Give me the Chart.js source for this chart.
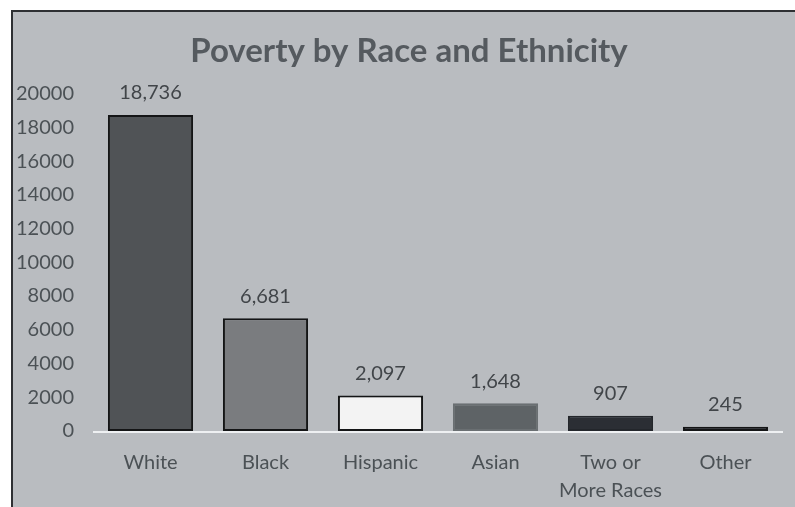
<!DOCTYPE html>
<html>
<head>
<meta charset="utf-8">
<script src="https://cdn.jsdelivr.net/npm/chart.js@4"></script>
<style>
  html, body { margin: 0; padding: 0; background: #ffffff; overflow: hidden; }
  #frame {
    position: absolute;
    left: 11px; top: 10px;
    width: 782px; height: 495px;
    overflow: hidden;
    background: #b9bcc0;
    border-left: 2px solid #2e3033;
    border-top: 2px solid #2e3033;
  }
  #frame canvas { display: block; }
</style>
</head>
<body>
<div id="frame"><canvas id="poverty" width="792" height="495"></canvas></div>
<script>
const categories = ['White', 'Black', 'Hispanic', 'Asian', ['Two or', 'More Races'], 'Other'];
const counts = [18736, 6681, 2097, 1648, 907, 245];
const barColors = ['#505356', '#7a7c7f', '#f3f3f3', '#5e6366', '#2b2e34', '#2b2e34'];
const edgeColors = ['#141516', '#141516', '#141516', '#6a6f72', '#23262b', '#141516'];
const yTicks = [0, 2000, 4000, 6000, 8000, 10000, 12000, 14000, 16000, 18000, 20000];

// value labels over each bar
const valueLabels = {
  id: 'valueLabels',
  afterDatasetsDraw(chart) {
    const ctx = chart.ctx;
    const meta = chart.getDatasetMeta(0);
    ctx.save();
    ctx.font = '20px Lato';
    ctx.fillStyle = '#414549';
    ctx.textAlign = 'center';
    ctx.textBaseline = 'middle';
    meta.data.forEach((bar, i) => {
      ctx.fillText(counts[i].toLocaleString('en-US'), bar.x, bar.y - 22);
    });
    ctx.restore();
  }
};

// white baseline under the bars
const baseline = {
  id: 'baseline',
  beforeDatasetsDraw(chart) {
    const { ctx, chartArea } = chart;
    const y = chart.scales.y.getPixelForValue(0);
    ctx.save();
    ctx.strokeStyle = '#eef0f2';
    ctx.lineWidth = 2;
    ctx.beginPath();
    ctx.moveTo(chartArea.left, y + 1);
    ctx.lineTo(chartArea.right, y + 1);
    ctx.stroke();
    ctx.restore();
  }
};

new Chart(document.getElementById('poverty'), {
  type: 'bar',
  data: {
    labels: categories,
    datasets: [{
      data: counts,
      backgroundColor: barColors,
      borderColor: edgeColors,
      borderWidth: 2,
      borderSkipped: false,
      barPercentage: 0.74,
      categoryPercentage: 1
    }]
  },
  options: {
    responsive: false,
    animation: false,
    layout: { padding: 0 },
    plugins: {
      legend: { display: false },
      tooltip: { enabled: false },
      title: {
        display: true,
        text: 'Poverty by Race and Ethnicity',
        color: '#555a5f',
        font: { family: 'Lato', size: 33, weight: 'bold' },
        padding: { top: 20, bottom: 22 }
      }
    },
    scales: {
      x: {
        grid: { display: false },
        border: { display: false },
        ticks: {
          color: '#4b5155',
          font: { family: 'Lato', size: 20, lineHeight: 1.4 },
          padding: 10,
          maxRotation: 0
        },
        afterFit(scale) { scale.height = 76; }
      },
      y: {
        min: 0,
        max: 20000,
        grid: { display: false },
        border: { display: false },
        afterBuildTicks(scale) { scale.ticks = yTicks.map(v => ({ value: v })); },
        ticks: {
          color: '#4b5155',
          font: { family: 'Lato', size: 20 },
          padding: 11,
          callback: v => String(v)
        },
        afterFit(scale) { scale.width = 80; }
      },
      // empty right-hand margin beside the plot
      yRight: {
        position: 'right',
        grid: { display: false },
        border: { display: false },
        ticks: { display: false },
        afterFit(scale) { scale.width = 22; }
      }
    }
  },
  plugins: [baseline, valueLabels]
});
</script>
</body>
</html>
